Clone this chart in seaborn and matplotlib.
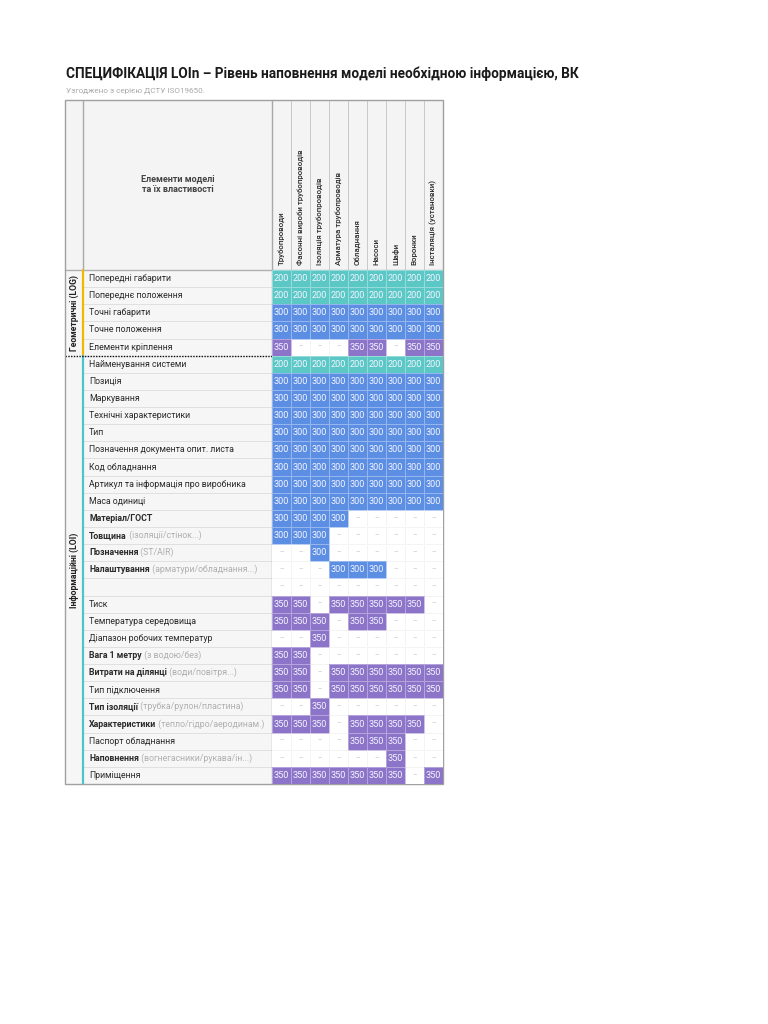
import numpy as np
import pandas as pd
import matplotlib.pyplot as plt
import seaborn as sns
from matplotlib.colors import ListedColormap, BoundaryNorm
from matplotlib.patches import Rectangle

sns.set_style('white')
plt.rcParams['font.family'] = ['Roboto', 'DejaVu Sans']

title = 'СПЕЦИФІКАЦІЯ LOIn – Рівень наповнення моделі необхідною інформацією, ВК'
subtitle = 'Узгоджено з серією ДСТУ ISO19650.'
header_label = 'Елементи моделі\nта їх властивості'

columns = ['Трубопроводи', 'Фасонні вироби трубопроводів', 'Ізоляція трубопроводів',
           'Арматура трубопроводів', 'Обладнання', 'Насоси', 'Шафи', 'Воронки',
           'Інсталяція (установки)']

row_names = ['Попередні габарити', 'Попереднє положення', 'Точні габарити', 'Точне положення',
             'Елементи кріплення',
             'Найменування системи', 'Позиція', 'Маркування', 'Технічні характеристики', 'Тип',
             'Позначення документа опит. листа', 'Код обладнання',
             'Артикул та інформація про виробника', 'Маса одиниці', 'Матеріал/ГОСТ',
             'Товщина', 'Позначення', 'Налаштування', '', 'Тиск', 'Температура середовища',
             'Діапазон робочих температур', 'Вага 1 метру', 'Витрати на ділянці',
             'Тип підключення', 'Тип ізоляції', 'Характеристики', 'Паспорт обладнання',
             'Наповнення', 'Приміщення']

row_notes = ['', '', '', '', '', '', '', '', '', '', '', '', '', '', '',
             '(ізоляції/стінок...)', '(ST/AIR)', '(арматури/обладнання...)', '', '', '',
             '', '(з водою/без)', '(води/повітря...)', '', '(трубка/рулон/пластина)',
             '(тепло/гідро/аеродинам.)', '', '(вогнегасники/рукава/ін...)', '']

groups = ['Геометричні (LOG)', 'Інформаційні (LOI)']
group_sizes = [5, 25]

_ = None
values = [
    [200, 200, 200, 200, 200, 200, 200, 200, 200],
    [200, 200, 200, 200, 200, 200, 200, 200, 200],
    [300, 300, 300, 300, 300, 300, 300, 300, 300],
    [300, 300, 300, 300, 300, 300, 300, 300, 300],
    [350, _, _, _, 350, 350, _, 350, 350],
    [200, 200, 200, 200, 200, 200, 200, 200, 200],
    [300, 300, 300, 300, 300, 300, 300, 300, 300],
    [300, 300, 300, 300, 300, 300, 300, 300, 300],
    [300, 300, 300, 300, 300, 300, 300, 300, 300],
    [300, 300, 300, 300, 300, 300, 300, 300, 300],
    [300, 300, 300, 300, 300, 300, 300, 300, 300],
    [300, 300, 300, 300, 300, 300, 300, 300, 300],
    [300, 300, 300, 300, 300, 300, 300, 300, 300],
    [300, 300, 300, 300, 300, 300, 300, 300, 300],
    [300, 300, 300, 300, _, _, _, _, _],
    [300, 300, 300, _, _, _, _, _, _],
    [_, _, 300, _, _, _, _, _, _],
    [_, _, _, 300, 300, 300, _, _, _],
    [_, _, _, _, _, _, _, _, _],
    [350, 350, _, 350, 350, 350, 350, 350, _],
    [350, 350, 350, _, 350, 350, _, _, _],
    [_, _, 350, _, _, _, _, _, _],
    [350, 350, _, _, _, _, _, _, _],
    [350, 350, _, 350, 350, 350, 350, 350, 350],
    [350, 350, _, 350, 350, 350, 350, 350, 350],
    [_, _, 350, _, _, _, _, _, _],
    [350, 350, 350, _, 350, 350, 350, 350, _],
    [_, _, _, _, 350, 350, 350, _, _],
    [_, _, _, _, _, _, 350, _, _],
    [350, 350, 350, 350, 350, 350, 350, _, 350],
]

level_colors = ['#5bc8c6', '#5c8fe3', '#8c74c9']
level_bounds = [150, 250, 325, 400]

df = pd.DataFrame(values, columns=columns, dtype=float)

# layout in pixels
W, H = 768, 1024
X0, XG, XL, XR = 65, 83, 272, 443
YT, YH, YB = 100, 270, 784
RH = (YB - YH) / len(row_names)
CW = (XR - XL) / len(columns)

fig = plt.figure(figsize=(W / 100, H / 100), dpi=100)
bg = fig.add_axes([0, 0, 1, 1])
bg.set_xlim(0, W)
bg.set_ylim(H, 0)
bg.axis('off')

bg.text(66, 78, title, fontsize=9.8, fontweight='bold', color='#1a1a1a', va='baseline')
bg.text(66, 93, subtitle, fontsize=5.9, color='#aaaaaa', va='baseline')

# backgrounds
bg.add_patch(Rectangle((X0, YT), XR - X0, YH - YT, fc='#f4f4f4', ec='none'))
bg.add_patch(Rectangle((X0, YH), XL - X0, YB - YH, fc='#f6f6f6', ec='none'))
bg.add_patch(Rectangle((XL, YH), XR - XL, YB - YH, fc='white', ec='none'))

# row separators in label area
for i in range(1, len(row_names)):
    bg.plot([XG, XL], [YH + i * RH] * 2, color='#dcdcdc', lw=0.6)

# header column separators
for j in range(1, len(columns)):
    bg.plot([XL + j * CW] * 2, [YT, YH], color='#c9c9c9', lw=0.7)
bg.plot([XG, XG], [YT, YH], color='#a8a8a8', lw=1)
bg.plot([XL, XL], [YT, YB], color='#a8a8a8', lw=1)
bg.plot([X0, XR], [YH, YH], color='#b0b0b0', lw=1)

# header texts
bg.text((XG + XL) / 2, 184, header_label, ha='center', va='center', fontsize=6.5,
        fontweight='bold', color='#444444', linespacing=1.2)
for j, c in enumerate(columns):
    bg.text(XL + (j + 0.5) * CW, YH - 5, c, rotation=90, ha='center', va='bottom',
            fontsize=5.7, fontweight='medium', color='#2b2b2b')

# group labels and coloured bars
start = 0
for g, n, col in zip(groups, group_sizes, ['#f2b705', '#4fc3c9']):
    y0, y1 = YH + start * RH, YH + (start + n) * RH
    bg.plot([XG, XG], [y0, y1], color=col, lw=1.6)
    bg.text((X0 + XG) / 2, (y0 + y1) / 2, g, rotation=90, ha='center', va='center',
            fontsize=6.2, fontweight='bold', color='#222222')
    start += n

# row labels
for i, (name, note) in enumerate(zip(row_names, row_notes)):
    y = YH + (i + 0.5) * RH
    bold = bool(note) or name == 'Матеріал/ГОСТ'
    t = bg.text(89, y, name, ha='left', va='center', fontsize=6.3, color='#2b2b2b',
                fontweight='bold' if bold else 'normal')
    if note:
        bg.annotate(' ' + note, xy=(1, 0), xycoords=t, ha='left', va='bottom',
                    fontsize=6.3, color='#b0b0b0')

# heatmap of the levels
ax = fig.add_axes([XL / W, 1 - YB / H, (XR - XL) / W, (YB - YH) / H])
ax.set_facecolor('white')
for i in range(1, len(row_names)):
    ax.axhline(i, color='#e3e3e3', lw=0.6, zorder=0.5)
for j in range(1, len(columns)):
    ax.axvline(j, color='#e3e3e3', lw=0.6, zorder=0.5)

sns.heatmap(df, ax=ax, cmap=ListedColormap(level_colors),
            norm=BoundaryNorm(level_bounds, len(level_colors)),
            mask=df.isna(), cbar=False, annot=True, fmt='.0f',
            annot_kws=dict(color='#f4f4ff', fontsize=6.6),
            linewidths=0.6, linecolor=(1, 1, 1, 0.35),
            xticklabels=False, yticklabels=False)
ax.set_xlabel('')
ax.set_ylabel('')

empty_r, empty_c = np.where(df.isna().values)
for r, c in zip(empty_r, empty_c):
    ax.text(c + 0.5, r + 0.5, '–', ha='center', va='center', fontsize=5, color='#c0c0c0')

# dotted group separator and outer frame
bg.plot([X0, XR], [YH + group_sizes[0] * RH] * 2, color='#111111', lw=1,
        ls=(0, (1, 1)), zorder=5)
bg.add_patch(Rectangle((X0, YT), XR - X0, YB - YT, fc='none', ec='#a0a0a0', lw=1, zorder=6))

fig.savefig('out.png', dpi=100)
